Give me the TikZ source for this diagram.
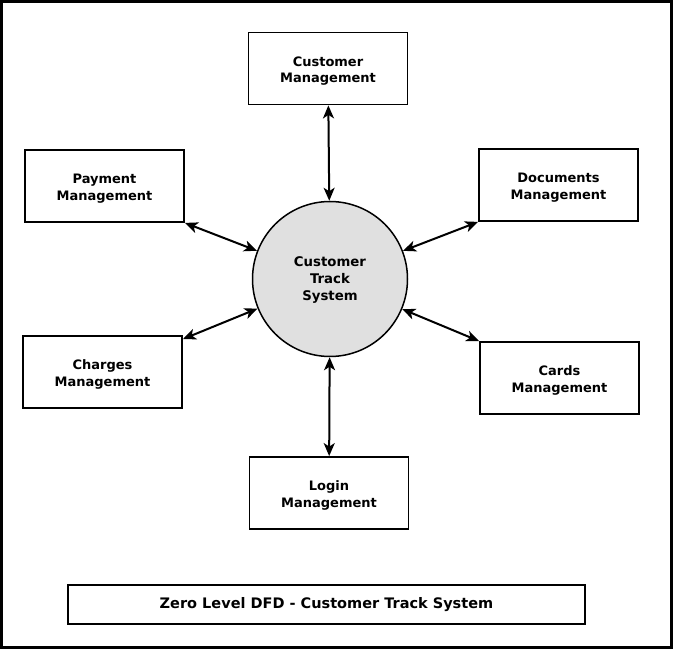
\documentclass[tikz,border=0pt]{standalone}
\usepackage{fontspec}
\setmainfont{DejaVu Sans}
\usepackage{tikz}
\usetikzlibrary{arrows.meta}
\usetikzlibrary{shapes}
\definecolor{procgray}{RGB}{224,224,224}
\newcommand{\toppad}[1]{\rule{0pt}{#1}}

\begin{document}
\begin{tikzpicture}[x=1pt,y=-1pt,
  box/.style={draw,line width=1.8pt,minimum width=159pt,minimum height=72pt,align=center,inner sep=0pt,
    font=\bfseries\fontsize{13}{16.5}\selectfont},
  proc/.style={draw,circle,line width=1.5pt,fill=procgray,minimum size=155pt,align=center,inner sep=0pt,
    font=\bfseries\fontsize{13.3}{17}\selectfont},
  titlebox/.style={draw,line width=1.8pt,minimum width=517pt,minimum height=39pt,inner sep=0pt,font=\bfseries\fontsize{14.5}{17}\selectfont},
  flow/.style={line width=2pt,{Stealth[length=13pt,width=11pt,inset=3.5pt]}-{Stealth[length=13pt,width=11pt,inset=3.5pt]}}]
 \useasboundingbox (0,0) rectangle (675,652);
 \draw[line width=3pt] (1.5,1.5) rectangle (671.5,647.5);

 \node[proc] (sys) at (330,279) {\toppad{11.5pt}Customer\\Track\\System};

 \node[box] (cust) at (328,68.5) {\toppad{14.5pt}Customer\\Management};
 \node[box] (pay) at (104.5,186) {\toppad{14.5pt}Payment\\Management};
 \node[box] (doc) at (558.5,185) {\toppad{14.5pt}Documents\\Management};
 \node[box] (chg) at (102.5,372) {\toppad{14.5pt}Charges\\Management};
 \node[box] (card) at (559.5,378) {\toppad{14.5pt}Cards\\Management};
 \node[box] (login) at (329,493) {\toppad{14.5pt}Login\\Management};

 % data flows
 \draw[flow] (cust) -- (sys);
 \draw[flow] (pay.south east) -- (sys);
 \draw[flow] (doc.south west) -- (sys);
 \draw[flow] ([yshift=-4pt]chg.north east) -- (sys);
 \draw[flow] (card.north west) -- (sys);
 \draw[flow] (login) -- (sys);

 \node[titlebox] (ttl) at (326.5,604.5) {Zero Level DFD - Customer Track System};
\end{tikzpicture}
\end{document}
